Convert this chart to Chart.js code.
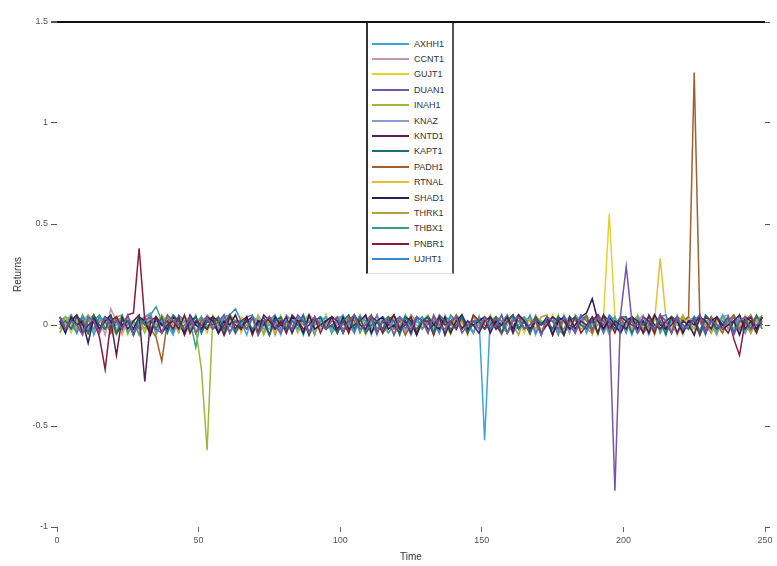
<!DOCTYPE html>
<html>
<head>
<meta charset="utf-8">
<script src="https://cdn.jsdelivr.net/npm/chart.js@4/dist/chart.umd.min.js"></script>
<style>
  html, body { margin: 0; padding: 0; background: #fff; }
  #wrap { position: relative; width: 777px; height: 566px; }
  #legend {
    position: absolute; left: 366px; top: 23px; width: 88px; height: 251px;
    border-left: 2px solid #333; border-right: 2px solid #555; border-bottom: 1px solid #ddd;
    background: #fff; box-sizing: border-box; padding-top: 13px;
    font-family: "Liberation Sans", Arial, sans-serif; font-size: 9px; color: #333;
  }
  .row { display: flex; align-items: center; height: 15.4px; }
  .swatch { width: 37px; height: 0; border-top: 2px solid; margin-left: 4px; margin-right: 5px; }
</style>
</head>
<body>
<div id="wrap">
  <canvas id="chart" width="777" height="566"></canvas>
  <div id="legend"></div>
</div>
<script>
const LABELS = ["AXHH1", "CCNT1", "GUJT1", "DUAN1", "INAH1", "KNAZ", "KNTD1", "KAPT1",
  "PADH1", "RTNAL", "SHAD1", "THRK1", "THBX1", "PNBR1", "UJHT1"];

const COLORS = ["#3ea6d4", "#c796b0", "#e3d232", "#7458a8", "#9fb83a", "#86a0d4", "#5a1f4e", "#1f6d78",
  "#a0602c", "#e2bf3a", "#2c1c5e", "#b0a23a", "#3a9c8a", "#8a1a3a", "#3a86d0"];

// darker series are drawn on top of the band (lower order = on top)
const DRAW_ORDER = [1, 2, 2, 0, 1, 2, 0, 0, 1, 2, 0, 1, 1, 0, 1];

const X_TICKS = [0, 50, 100, 150, 200, 250];
const Y_TICKS = [-1, -0.5, 0, 0.5, 1, 1.5];

// sample times (every 2 steps)
const TIMES = [1,3,5,7,9,11,13,15,17,19,21,23,25,27,29,31,33,35,37,39,41,43,45,47,49,
  51,53,55,57,59,61,63,65,67,69,71,73,75,77,79,81,83,85,87,89,91,93,95,97,99,
  101,103,105,107,109,111,113,115,117,119,121,123,125,127,129,131,133,135,137,139,141,143,145,147,149,
  151,153,155,157,159,161,163,165,167,169,171,173,175,177,179,181,183,185,187,189,191,193,195,197,199,
  201,203,205,207,209,211,213,215,217,219,221,223,225,227,229,231,233,235,237,239,241,243,245,247,249];

const S1 = [.02,-.04,.05,0,-.02,.04,-.05,.02,.04,-.02,0,.05,-.04,.02,-.02,.04,.06,-.04,.02,0,-.05,.04,.02,-.02,.05,
  -.04,.02,.04,-.02,.05,0,-.04,.02,-.05,.04,.02,-.02,0,.04,-.04,.05,.02,-.02,.04,-.05,0,.02,.04,-.04,.02,
  .05,-.02,0,.04,-.04,.02,-.05,.04,.02,0,-.02,.05,-.04,.02,.04,-.02,0,.04,-.05,.02,.04,-.02,.02,-.04,.04,
  -.57,.04,-.02,.02,.05,-.04,0,.04,-.02,.02,-.05,.04,.02,-.04,.05,0,-.02,.04,-.04,.02,.05,-.02,0,.04,-.04,
  .02,-.05,.04,0,.02,-.02,.05,-.04,.02,.04,-.02,0,.04,-.05,.02,.02,-.04,.05,0,-.02,.04,-.04,.02,0,.04];
const S2 = [-.02,.04,0,-.04,.02,.05,-.02,.04,-.05,.08,.02,-.04,.04,0,-.02,.02,.05,-.04,0,.04,-.02,.02,-.05,.04,0,
  .04,-.02,.02,-.04,0,.05,.02,-.02,.04,-.04,.02,0,-.05,.04,.02,-.02,.04,0,-.04,.05,.02,-.02,0,.04,-.04,
  .02,0,-.04,.04,.02,-.02,.05,-.04,0,.02,.04,-.05,.02,0,-.02,.04,.02,-.04,.05,0,-.02,.04,-.04,.02,.02,
  -.02,.04,0,-.05,.02,.04,-.02,.02,-.04,.05,0,.02,-.02,.04,-.04,.02,0,.05,-.02,-.04,.04,.02,-.05,.02,0,
  .04,-.02,.02,.05,-.04,0,.02,-.02,.04,-.05,.02,.04,0,-.02,.02,-.04,.04,.02,-.02,.05,0,-.04,.02,.04,-.02];
const S3 = [0,.02,-.04,.04,-.02,.02,.05,-.04,0,.02,-.02,.04,-.05,.02,.04,0,-.02,.04,-.04,.02,.05,-.02,0,-.04,.02,
  .04,-.02,.05,0,-.04,.02,-.02,.04,.02,-.05,.04,0,.02,-.04,.05,-.02,.02,.04,-.04,0,.02,-.02,.05,-.04,.02,
  -.02,.04,0,.02,-.05,.04,.02,-.02,.04,0,-.04,.05,.02,-.02,0,.04,-.04,.02,.02,-.05,.04,0,-.02,.04,.02,
  .02,-.04,.04,0,.05,-.02,.02,-.04,.04,.02,-.02,0,.05,-.04,.02,.04,-.02,0,.04,-.05,.02,.04,.55,.04,-.02,
  .02,0,-.04,.04,.02,-.02,.05,-.04,0,.02,.04,-.02,.02,-.05,.04,0,.02,-.04,.04,.02,-.02,.05,0,-.04,.02];
const S4 = [.04,-.02,.02,0,-.05,.04,.02,-.04,.04,0,.02,-.02,.05,-.04,0,.02,.04,-.02,-.04,.05,.02,0,-.02,.04,-.04,
  0,.04,-.02,.02,.05,-.04,.02,0,-.02,.04,-.05,.02,.04,0,-.04,.02,-.02,.05,.02,-.04,.04,0,-.02,.02,.04,
  -.04,.02,.05,-.02,0,.04,-.04,.02,.02,-.05,.04,0,-.02,.04,.02,-.04,.05,0,-.02,.02,.04,-.04,0,.02,-.02,
  .04,-.02,0,.05,-.04,.02,.04,-.02,0,.02,-.05,.04,.02,-.02,.04,0,-.04,.05,.02,-.02,.04,0,.04,-.82,.05,
  .29,.02,-.04,.04,0,-.02,.05,.02,-.04,.04,-.02,0,.02,.05,-.04,.02,0,-.02,.04,-.05,.02,.04,-.02,0,.02];
const S5 = [-.02,.04,0,.02,-.04,.05,.02,-.02,.04,0,-.05,.02,.04,-.02,.02,-.04,.04,0,.05,-.02,.02,-.04,.04,.02,-.02,
  -.22,-.62,.04,-.02,.02,.05,-.04,0,.02,-.02,.04,-.05,.02,.04,0,-.02,.04,-.04,.02,.05,-.02,0,.04,-.04,.02,
  .04,-.02,0,.05,-.04,.02,.02,-.02,.04,-.05,0,.04,.02,-.04,.02,.05,-.02,0,.04,-.04,.02,.02,-.05,.04,0,
  -.02,.02,.04,-.04,0,.05,-.02,.02,-.04,.04,.02,0,-.02,.05,-.04,.02,.04,-.02,0,.02,-.05,.04,.02,-.02,.04,
  .02,-.04,.05,0,-.02,.04,.02,-.04,.02,0,.05,-.02,.04,-.04,.02,0,-.05,.04,.02,-.02,.04,0,-.04,.02,.05];
const S6 = [.02,0,.04,-.04,.02,-.02,.05,-.04,.02,.04,0,-.02,.04,-.05,.02,.02,-.04,.04,0,.05,-.02,.02,-.04,.04,0,
  -.02,.05,.02,-.04,.04,0,-.02,.02,.04,-.04,.05,0,-.02,.02,-.05,.04,.02,0,-.04,.04,.02,-.02,.05,-.04,0,
  .04,.02,-.02,0,.04,-.05,.02,.04,-.02,.02,0,-.04,.05,.02,-.02,.04,-.04,0,.02,.04,-.02,.05,-.04,.02,0,
  .02,-.02,.04,-.04,.05,0,-.02,.02,.04,-.05,.02,0,.04,-.02,.02,-.04,.05,.02,-.02,0,.04,-.04,.02,.04,-.02,
  0,.04,-.02,.02,-.05,.04,.02,0,-.04,.05,-.02,.02,.04,-.04,0,.02,-.02,.04,.05,-.04,.02,0,-.02,.04,-.02];
const S7 = [.04,-.02,.02,.05,-.04,0,.02,-.02,.04,.02,-.15,.04,-.02,.02,.05,-.28,.02,.04,-.04,0,.02,-.02,.05,-.04,.02,
  0,-.02,.04,.02,-.05,.04,0,-.02,.02,.04,-.04,.05,.02,-.02,0,.04,-.04,.02,.02,-.05,.04,0,-.02,.04,.02,
  -.04,.02,.05,0,-.02,.04,-.04,.02,0,.05,-.02,.02,-.04,.04,.02,-.02,0,.04,-.05,.02,.04,-.02,.02,0,-.04,
  .02,.04,-.02,0,.04,-.04,.05,.02,-.02,.02,-.04,0,.04,.02,-.05,.04,-.02,.02,0,.04,-.04,.05,-.02,.02,0,
  -.02,.04,.02,-.04,.05,0,-.02,.02,.04,-.04,.02,0,-.05,.04,.02,-.02,.04,0,-.04,.02,.05,-.02,.02,-.04,.04];
const S8 = [0,.02,-.02,.04,.02,-.04,.05,0,-.02,.04,-.04,.02,.02,-.05,.04,0,.02,-.02,.04,-.04,.05,.02,-.02,0,.04,
  -.04,.02,0,.04,-.02,.05,-.04,.02,.02,-.02,0,.04,-.05,.02,.04,-.02,.02,0,.05,-.04,.02,.04,-.02,0,-.04,
  .02,.05,-.02,.04,-.04,0,.02,-.02,.04,.02,-.05,.04,0,-.02,.02,.04,-.04,.05,.02,-.02,0,.04,-.04,.02,.02,
  -.02,0,.04,-.04,.02,.05,-.02,.02,-.04,.04,0,.02,-.02,.04,-.05,.02,.04,0,-.02,.02,-.04,.05,.02,-.02,.04,
  .04,-.04,.02,0,.04,-.02,.02,-.05,.04,.02,0,-.02,.04,-.04,.05,.02,-.02,0,.04,-.04,.02,.02,-.02,.05,0];
const S9 = [.02,-.02,.04,0,-.04,.02,.05,-.02,.02,-.04,.04,0,.02,-.05,.04,.02,-.02,-.06,-.18,.02,.04,-.02,0,.04,-.04,
  .02,.04,-.02,0,.05,-.04,.02,.02,-.02,.04,-.05,0,.04,.02,-.04,.02,0,-.02,.05,-.04,.02,.04,-.02,0,.02,
  -.04,.04,.02,-.02,0,.05,-.04,.02,.04,-.02,.02,-.05,0,.04,.02,-.04,.04,-.02,.02,0,.05,-.02,.02,-.04,.04,
  0,-.02,.04,.02,-.04,.02,.05,-.02,0,.04,-.04,.02,.02,-.05,.04,0,-.02,.02,.04,-.04,.05,.02,-.02,0,.04,
  -.02,.02,.04,-.04,0,.05,-.02,.02,-.04,.04,.02,.04,1.25,.02,-.02,.04,0,-.04,.02,.05,-.02,.02,-.04,.04,0];
const S10 = [.04,0,-.02,.02,.04,-.04,.02,.05,-.02,0,.04,-.05,.02,.02,-.04,.04,0,-.02,.05,.02,-.04,.02,.04,-.02,0,
  .02,-.04,.04,.02,-.02,0,.05,-.04,.02,.04,-.02,.02,-.05,.04,0,.02,-.02,.04,-.04,.05,.02,0,-.02,.04,-.04,
  .02,.04,-.02,.05,0,-.04,.02,.02,-.02,.04,-.04,0,.05,-.02,.02,.04,-.05,.02,0,.04,-.02,.02,-.04,.04,.02,
  -.02,.05,0,-.04,.02,.04,-.02,.02,-.05,.04,0,.02,.04,-.02,.02,-.04,.05,0,-.02,.04,.02,-.04,.02,0,.04,
  -.02,.02,.04,-.04,0,.02,.33,.04,-.02,.02,-.05,.04,0,.02,-.02,.04,-.04,.05,.02,-.02,0,.04,-.04,.02,.02];
const S11 = [.02,-.04,.04,0,.02,-.09,.04,-.02,.02,.05,-.04,0,.02,-.02,.04,.02,-.05,.04,0,-.02,.04,.02,-.04,.05,0,
  -.02,.04,.02,-.04,.02,0,.05,-.02,.04,-.04,.02,.02,-.05,.04,0,-.02,.04,.02,-.04,.05,-.02,0,.02,.04,-.04,
  .04,-.02,0,.02,.05,-.04,.02,.04,-.02,0,-.04,.04,.02,-.05,.02,.04,0,-.02,.04,-.04,.02,.05,-.02,0,.02,
  .04,-.04,.02,0,.04,-.02,.05,.02,-.04,.02,0,.04,-.05,.02,.04,-.02,0,.04,.06,.13,.02,-.02,.04,0,-.04,
  .02,.04,-.02,.02,-.04,.05,0,-.02,.04,.02,-.04,.02,0,.05,-.04,.02,.04,-.02,0,.02,-.05,.04,.02,-.02,.04];
const S12 = [-.04,.02,.05,-.02,0,.04,-.04,.02,.02,-.02,.04,.05,-.04,0,.02,-.02,.04,-.05,.02,.04,0,-.02,.02,.04,-.04,
  .02,0,-.02,.04,-.04,.05,.02,-.02,0,.04,.02,-.04,.04,-.05,.02,0,.04,-.02,.02,.05,-.04,.02,0,-.02,.04,
  .04,-.04,.02,0,.05,-.02,.02,-.04,.04,.02,-.02,0,.04,-.05,.02,.04,-.02,.02,0,-.04,.05,.02,-.02,.04,0,
  -.02,.02,.04,-.04,.02,0,-.05,.04,.02,-.02,.04,.05,-.04,0,.02,.02,-.02,.04,-.04,.02,0,.05,-.02,.04,-.04,
  .02,0,.04,-.02,.02,-.05,.04,.02,0,-.04,.04,.02,-.02,.05,0,-.04,.02,.04,-.02,.02,-.04,0,.05,-.02,.02];
const S13 = [.02,.04,-.02,0,.04,-.04,.02,.05,-.02,.02,-.04,.04,0,.02,-.05,.04,.05,.09,.02,-.02,.04,0,-.04,.02,-.11,
  .04,-.02,.02,.04,-.05,0,.02,-.02,.04,.05,-.04,.02,0,-.02,.04,-.04,.02,.02,-.05,.04,0,.02,-.02,.04,.02,
  -.02,0,.04,-.04,.02,.05,-.02,.02,-.04,0,.04,.02,-.05,.04,-.02,.02,0,.04,-.04,.05,.02,-.02,.02,0,-.04,
  .04,.02,-.02,.05,-.04,0,.02,.04,-.02,.02,-.05,.04,.02,0,-.02,.04,-.04,.02,.05,-.02,0,.04,-.04,.02,.02,
  -.04,.04,0,.02,-.02,.05,-.04,.02,.04,0,-.02,.02,-.05,.04,.02,-.02,.04,0,.02,-.04,.05,-.02,0,.04,-.02];
const S14 = [.04,-.02,.02,.05,0,-.04,.02,-.06,-.22,.02,.04,-.02,.05,.06,.38,.02,-.04,.04,0,.02,-.02,.04,-.05,.02,.04,
  -.02,.02,.04,-.04,0,.05,-.02,.02,.04,-.05,.02,0,.04,-.02,.02,-.04,.05,.02,-.02,0,.04,-.04,.02,.04,-.02,
  .02,-.04,.05,0,-.02,.04,.02,-.04,.02,.05,-.02,0,.04,-.04,.02,.02,-.05,.04,0,.02,-.02,.04,-.04,.05,.02,
  -.02,.04,0,-.04,.02,.05,-.02,.02,-.04,.04,0,.02,-.05,.04,.02,-.02,.04,-.04,0,.02,.05,-.02,.02,-.04,.04,
  .02,0,-.02,.04,.02,-.04,.05,-.02,0,.04,-.04,.02,.02,-.05,.04,.02,-.02,0,.04,-.07,-.15,.02,.04,-.02,.04];
const S15 = [-.02,.04,.02,-.04,.05,0,-.02,.04,.02,-.04,.02,0,.04,-.05,.02,.04,-.02,.02,0,.04,-.04,.05,.02,-.02,0,
  .04,-.02,.02,-.04,.04,.05,.08,.02,-.02,.04,0,-.04,.02,.05,-.02,.02,-.04,.04,0,.02,-.05,.04,.02,-.02,.04,
  0,.02,-.04,.04,.02,-.02,.05,-.04,0,.02,.04,-.02,.02,-.05,.04,0,.02,-.04,.04,.02,-.02,.05,0,-.04,.02,
  .04,-.02,.02,0,-.04,.04,.02,-.02,.05,-.04,.02,0,.04,-.02,-.05,.04,.02,0,-.02,.04,.02,-.04,.05,.02,-.02,
  .02,.04,-.04,0,.02,-.02,.04,.05,-.04,.02,0,-.02,.04,.02,-.05,.04,-.02,.02,0,.04,-.04,.02,.05,-.02,.04];

const SERIES = [S1, S2, S3, S4, S5, S6, S7, S8, S9, S10, S11, S12, S13, S14, S15];

const datasets = SERIES.map((vals, i) => ({
  label: LABELS[i],
  data: vals.map((v, j) => ({ x: TIMES[j], y: v })),
  borderColor: COLORS[i],
  backgroundColor: COLORS[i],
  borderWidth: 1.5,
  pointRadius: 0,
  tension: 0,
  fill: false,
  order: DRAW_ORDER[i],
}));

const tickFont = { family: "'Liberation Sans', Arial, sans-serif", size: 9 };
const titleFont = { family: "'Liberation Sans', Arial, sans-serif", size: 10 };

new Chart(document.getElementById("chart"), {
  type: "line",
  data: { datasets },
  options: {
    responsive: false,
    animation: false,
    devicePixelRatio: 1,
    layout: { padding: { top: 22, right: 12, bottom: 0, left: 0 } },
    plugins: { legend: { display: false }, tooltip: { enabled: false } },
    scales: {
      x: {
        type: "linear",
        min: 0,
        max: 250,
        afterBuildTicks: (s) => { s.ticks = X_TICKS.map((v) => ({ value: v })); },
        afterFit: (s) => { s.height = 39; },
        border: { display: false },
        grid: { color: "rgba(0,0,0,0)", drawTicks: true, tickLength: 5, tickColor: "#666" },
        ticks: { font: tickFont, color: "#555", padding: 3, maxRotation: 0, callback: (v) => String(v) },
        title: { display: true, text: "Time", font: titleFont, color: "#333", padding: { top: 0, bottom: 3 } },
      },
      y: {
        min: -1,
        max: 1.5,
        afterBuildTicks: (s) => { s.ticks = Y_TICKS.map((v) => ({ value: v })); },
        afterFit: (s) => { s.width = 57; },
        border: { display: false },
        grid: {
          color: (ctx) => (ctx.tick && ctx.tick.value === 1.5 ? "#111" : "rgba(0,0,0,0)"),
          lineWidth: (ctx) => (ctx.tick && ctx.tick.value === 1.5 ? 2 : 1),
          drawTicks: true,
          tickLength: 6,
          tickColor: "#555",
        },
        ticks: { font: tickFont, color: "#555", padding: 3, callback: (v) => String(v) },
        title: { display: true, text: "Returns", font: titleFont, color: "#333", padding: { top: 12, bottom: 0 } },
      },
      y2: {
        position: "right",
        min: -1,
        max: 1.5,
        afterBuildTicks: (s) => { s.ticks = Y_TICKS.map((v) => ({ value: v })); },
        afterFit: (s) => { s.width = 0; },
        border: { display: false },
        grid: { drawOnChartArea: false, drawTicks: true, tickLength: 5, tickColor: "#555" },
        ticks: { display: false },
      },
    },
  },
});

// legend box in the middle of the top edge, built from the datasets
const legendEl = document.getElementById("legend");
datasets.forEach((ds) => {
  const row = document.createElement("div");
  row.className = "row";
  row.innerHTML = `<span class="swatch" style="border-color:${ds.borderColor}"></span><span>${ds.label}</span>`;
  legendEl.appendChild(row);
});
</script>
</body>
</html>
